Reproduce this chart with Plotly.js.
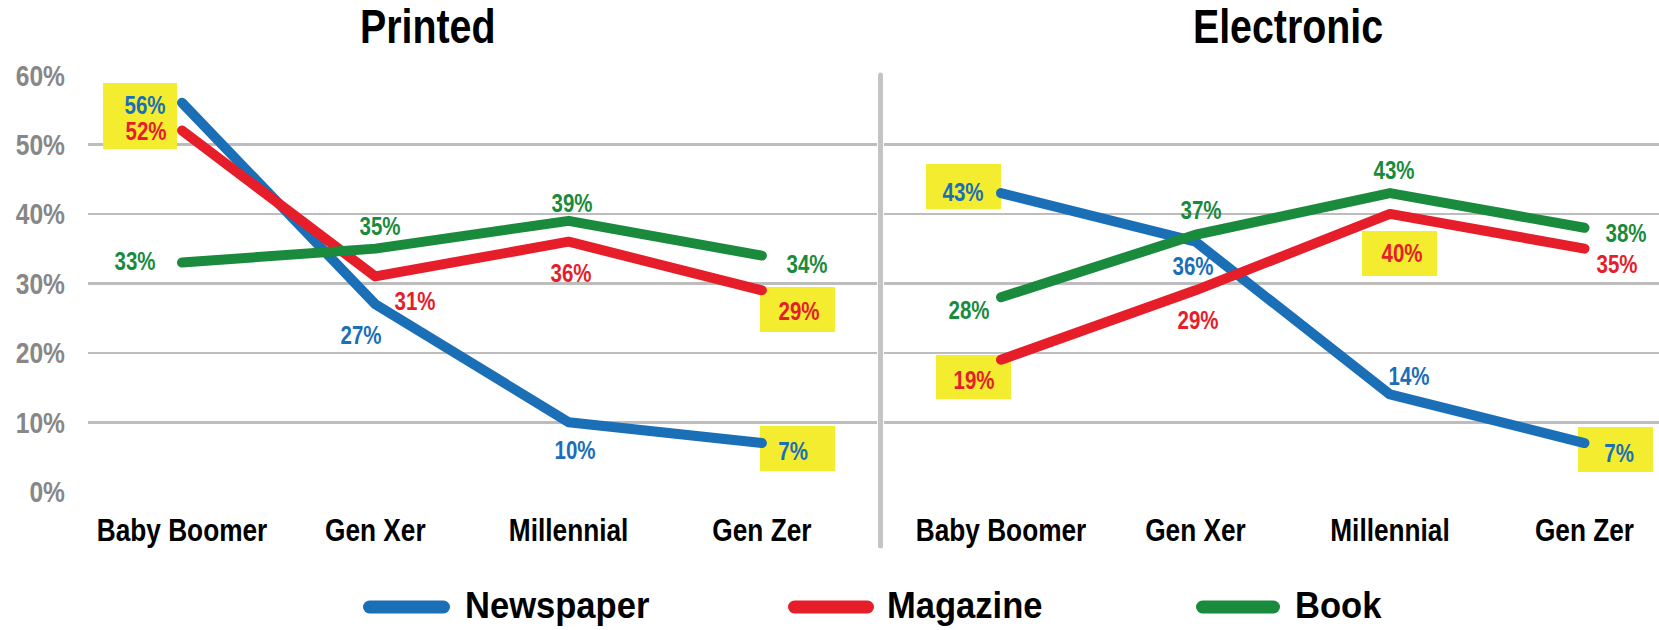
<!DOCTYPE html>
<html>
<head>
<meta charset="utf-8">
<script src="https://cdn.plot.ly/plotly-3.0.1.min.js"></script>
<style>
  html, body { margin: 0; padding: 0; background: #ffffff; }
  #chart { width: 1659px; height: 630px; }
  .scatterlayer .js-line { stroke-linecap: round; stroke-linejoin: round; }
  .shapelayer path { stroke-linecap: round; }
</style>
</head>
<body>
<div id="chart"></div>
<script>
// ---------------- data ----------------
const categories = ['Baby Boomer', 'Gen Xer', 'Millennial', 'Gen Zer'];
const seriesNames = ['Newspaper', 'Magazine', 'Book'];
const panelTitles = ['Printed', 'Electronic'];

const printedNewspaper = [56, 27, 10, 7];
const printedMagazine  = [52, 31, 36, 29];
const printedBook      = [33, 35, 39, 34];

const electronicNewspaper = [43, 36, 14, 7];
const electronicMagazine  = [19, 29, 40, 35];
const electronicBook      = [28, 37, 43, 38];

const yTickValues = [0, 10, 20, 30, 40, 50, 60];
const yTickLabels = ['0%', '10%', '20%', '30%', '40%', '50%', '60%'];

// ---------------- styling / layout constants ----------------
const W = 1659, H = 630;
const colors = ['#1B6FB7', '#E61E2A', '#1A8B3D'];
const fontFam = '"Liberation Sans", Arial, sans-serif';
const narrowScale = 0.82;   // emulate a narrow bold face
const legendScale = 0.96;
const yellow = '#F3EC2F';

// pixel geometry of the two panels
const yPix0 = 491.7, yPix60 = 75;
const panels = [
  { xa: 'x',  left: 88,  right: 877,  first: 182,  step: 193.3 },
  { xa: 'x2', left: 884, right: 1659, first: 1001, step: 194.5 }
];

const panelSeries = [
  [printedNewspaper, printedMagazine, printedBook],
  [electronicNewspaper, electronicMagazine, electronicBook]
];

// label offsets (pixels) [dx, dy-up] per panel / series / category
const labelOffsets = [
  [ [[-37, -2], [-14, -31], [6, -28], [31, -8]],
    [[-36, 0],  [40, -25],  [2, -31], [37, -21]],
    [[-47, 2],  [5, 23],    [3, 18],  [45, -8]] ],
  [ [[-38, 1],  [-3, -24],  [19, 18], [34, -10]],
    [[-27, -20],[2, -30],   [12, -39],[32, -15]],
    [[-32, -13],[5, 25],    [4, 23],  [41, -5]] ]
];

// yellow highlight boxes in pixels [panel, x0, x1, y0top, y1bottom]
const highlightBoxes = [
  [0, 103, 177, 83, 149],
  [0, 760, 835, 287, 332],
  [0, 760, 835, 426, 471],
  [1, 926, 1001, 164, 209],
  [1, 936, 1011, 355, 399],
  [1, 1362, 1437, 231, 276],
  [1, 1578, 1653, 427, 472]
];

// ---------------- helpers ----------------
const pxToPaperX = px => px / W;
const pxToPaperY = py => 1 - py / H;
const pxToDataY = py => (yPix0 - py) / ((yPix0 - yPix60) / 60);
function pxToDataX(p, px) { return (px - p.first) / p.step; }

// ---------------- traces ----------------
const traces = [];
panels.forEach((p, pi) => {
  panelSeries[pi].forEach((vals, si) => {
    traces.push({
      type: 'scatter',
      mode: 'lines',
      x: categories,
      y: vals,
      xaxis: p.xa,
      yaxis: 'y',
      name: seriesNames[si],
      showlegend: false,
      line: { color: colors[si], width: 10 },
      hoverinfo: 'skip'
    });
  });
});

// ---------------- annotations ----------------
const annotations = [];
const annScale = [];
panels.forEach((p, pi) => {
  panelSeries[pi].forEach((vals, si) => {
    vals.forEach((v, ci) => {
      const off = labelOffsets[pi][si][ci];
      annotations.push({
        x: categories[ci], y: v, xref: p.xa, yref: 'y',
        text: v + '%', showarrow: false,
        xanchor: 'center', yanchor: 'middle',
        xshift: off[0], yshift: off[1],
        font: { family: fontFam, size: 25, color: colors[si], weight: 'bold' }
      });
      annScale.push(narrowScale);
    });
  });
});

// panel titles
const titleCenters = [427.5, 1288];
panelTitles.forEach((t, i) => {
  annotations.push({
    x: pxToPaperX(titleCenters[i]), y: pxToPaperY(27), xref: 'paper', yref: 'paper',
    text: t, showarrow: false, xanchor: 'center', yanchor: 'middle',
    font: { family: fontFam, size: 48, color: '#000000', weight: 'bold' }
  });
  annScale.push(narrowScale);
});

// custom legend
const legendSample = [[363, 450], [788, 874], [1196, 1280]];
const legendText = [463, 885, 1293];
const shapes = [];
seriesNames.forEach((n, i) => {
  shapes.push({
    type: 'line', xref: 'paper', yref: 'paper', layer: 'above',
    x0: pxToPaperX(legendSample[i][0] + 6.5), x1: pxToPaperX(legendSample[i][1] - 6.5),
    y0: pxToPaperY(607), y1: pxToPaperY(607),
    line: { color: colors[i], width: 13 }
  });
  annotations.push({
    x: pxToPaperX(legendText[i]), y: pxToPaperY(605), xref: 'paper', yref: 'paper',
    text: n, showarrow: false, xanchor: 'left', yanchor: 'middle',
    font: { family: fontFam, size: 36, color: '#000000', weight: 'bold' }
  });
  annScale.push(legendScale);
});

// yellow highlight boxes (between grid and traces)
highlightBoxes.forEach(b => {
  const p = panels[b[0]];
  shapes.push({
    type: 'rect', xref: p.xa, yref: 'y', layer: 'between',
    x0: pxToDataX(p, b[1]), x1: pxToDataX(p, b[2]),
    y0: pxToDataY(b[4]), y1: pxToDataY(b[3]),
    fillcolor: yellow, line: { width: 0 }
  });
});

// vertical divider
shapes.push({
  type: 'line', xref: 'paper', yref: 'paper', layer: 'below',
  x0: pxToPaperX(880.5), x1: pxToPaperX(880.5),
  y0: pxToPaperY(75), y1: pxToPaperY(546),
  line: { color: '#C4C4C4', width: 5 }
});

// ---------------- layout ----------------
function xAxis(p) {
  return {
    type: 'category',
    domain: [pxToPaperX(p.left), pxToPaperX(p.right)],
    range: [pxToDataX(p, p.left), pxToDataX(p, p.right)],
    anchor: 'y',
    showgrid: false, zeroline: false, showline: false,
    ticks: '', ticklabelstandoff: 16,
    tickfont: { family: fontFam, size: 32, color: '#000000', weight: 'bold' },
    fixedrange: true
  };
}

const layout = {
  width: W, height: H,
  margin: { l: 0, r: 0, t: 0, b: 0, pad: 0 },
  paper_bgcolor: '#ffffff', plot_bgcolor: '#ffffff',
  showlegend: false,
  xaxis: xAxis(panels[0]),
  xaxis2: xAxis(panels[1]),
  yaxis: {
    domain: [pxToPaperY(yPix0), pxToPaperY(yPix60)],
    range: [0, 60],
    tickmode: 'array', tickvals: yTickValues, ticktext: yTickLabels,
    showgrid: true, gridcolor: '#BDBDBD', gridwidth: 2.5,
    zeroline: false, showline: false, ticks: '',
    ticklabelstandoff: 22,
    tickfont: { family: fontFam, size: 30, color: '#878787', weight: 'bold' },
    anchor: 'x',
    fixedrange: true
  },
  shapes: shapes,
  annotations: annotations
};

// horizontally condense a text element around its anchor point
function condense(el, s, anchor) {
  const bb = el.getBBox();
  let cx;
  if (anchor === 'end') cx = bb.x + bb.width;
  else if (anchor === 'start') cx = bb.x;
  else cx = bb.x + bb.width / 2;
  const cy = bb.y + bb.height / 2;
  const prev = el.getAttribute('transform') || '';
  el.setAttribute('transform',
    prev + ' translate(' + cx + ',' + cy + ') scale(' + s + ',1) translate(' + (-cx) + ',' + (-cy) + ')');
}

Plotly.newPlot('chart', traces, layout, { staticPlot: true, displayModeBar: false }).then(gd => {
  gd.querySelectorAll('.xtick text, .x2tick text').forEach(t => condense(t, narrowScale, 'middle'));
  gd.querySelectorAll('.ytick text').forEach(t => condense(t, narrowScale, 'end'));
  gd.querySelectorAll('g.annotation').forEach(g => {
    const idx = +g.getAttribute('data-index');
    const t = g.querySelector('text.annotation-text');
    if (!t) return;
    const s = annScale[idx];
    condense(t, s, annotations[idx].xanchor === 'left' ? 'start' : 'middle');
  });
});
</script>
</body>
</html>
